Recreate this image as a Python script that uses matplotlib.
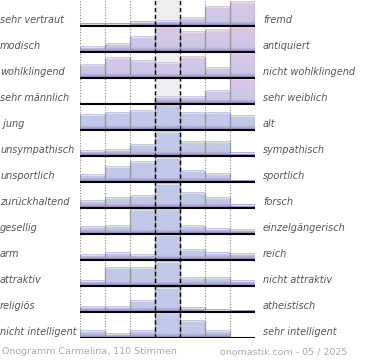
import numpy as np
import matplotlib
matplotlib.use("Agg")
import matplotlib.pyplot as plt
from matplotlib.colors import to_rgb

# --- data (percent of row height, 7 columns per row) ---
left_labels = ["sehr vertraut", "modisch", "wohlklingend", "sehr männlich", " jung",
               "unsympathisch", "unsportlich", "zurückhaltend", "gesellig", "arm",
               "attraktiv", "religiös", "nicht intelligent"]
right_labels = ["fremd", "antiquiert", "nicht wohlklingend", "sehr weiblich", "alt",
                "sympathisch", "sportlich", "forsch", "einzelgängerisch", "reich",
                "nicht attraktiv", "atheistisch", "sehr intelligent"]
values = [
    [5, 5, 13, 20, 31, 76, 96],
    [20, 29, 57, 97, 77, 85, 100],
    [49, 78, 65, 60, 82, 40, 97],
    [0, 0, 0, 26, 26, 52, 97],
    [59, 65, 75, 97, 65, 65, 56],
    [17, 23, 44, 96, 53, 53, 11],
    [28, 57, 79, 96, 44, 31, 4],
    [25, 40, 48, 96, 58, 37, 9],
    [26, 32, 96, 100, 29, 20, 16],
    [20, 26, 20, 97, 40, 26, 21],
    [17, 71, 71, 96, 29, 29, 17],
    [20, 20, 43, 94, 16, 8, 4],
    [25, 16, 25, 98, 66, 25, 0],
]
pink_rows = 4  # first rows drawn with pink-topped gradient
footer_left = "Onogramm Carmelina, 110 Stimmen"
footer_right = "onomastik.com - 05 / 2025"

n_rows = len(values)
n_cols = 7
max_h = 25 / 26  # tallest bar relative to row pitch

fig = plt.figure(figsize=(3.7, 3.6), dpi=100)
ax = fig.add_axes([80 / 370, 22.5 / 360, 175 / 370, 338 / 360])
ax.set_xlim(0, n_cols)
ax.set_ylim(0, n_rows)
ax.axis("off")

# center column background
ax.axvspan(3, 4, color="#eeeeee", zorder=0)

purple = np.array(to_rgb("#9a8abf"))
blue = np.array(to_rgb("#c2c8e8"))
pink = np.array(to_rgb("#dec6e6"))


def bar_colors(frac_top, is_pink, n=60):
    f = np.linspace(0, frac_top, n)
    # darker shade near the baseline
    w = np.clip(1 - f / 0.16, 0, 1) ** 1.5
    if is_pink:
        p = np.clip(f / max_h, 0, 1) ** 0.7
        body = blue[None, :] * (1 - p[:, None]) + pink[None, :] * p[:, None]
    else:
        body = np.repeat(blue[None, :], n, axis=0)
    col = body * (1 - w[:, None]) + purple[None, :] * w[:, None]
    return col[::-1].reshape(n, 1, 3)


for i, row in enumerate(values):
    base = n_rows - 1 - i
    for j, v in enumerate(row):
        h = v / 100 * max_h
        if h <= 0:
            continue
        img = bar_colors(h, i < pink_rows)
        ax.imshow(img, extent=(j, j + 1, base, base + h), aspect="auto",
                  interpolation="bilinear", zorder=2)
        ax.plot([j + 0.02, j + 0.98], [base + h, base + h], color="#e0e0e0", lw=0.8, zorder=3)
        ax.plot([j, j], [base, base + h], color="#999999", lw=0.9, zorder=3)
        ax.plot([j + 1, j + 1], [base, base + h], color="#999999", lw=0.9, zorder=3)
    ax.plot([0, n_cols], [base, base], color="black", lw=1.5, zorder=5,
            solid_capstyle="butt")
    ax.text(-80 / 25, base + 0.2, left_labels[i], ha="left", va="center",
            fontsize=7, style="italic", color="#555555", clip_on=False)
    ax.text(n_cols + 8 / 25, base + 0.2, right_labels[i], ha="left", va="center",
            fontsize=7, style="italic", color="#555555", clip_on=False)

for x in [0, 1, 2, 5, 6, 7]:
    ax.plot([x, x], [0, n_rows], color="#888888", lw=0.8, ls=(0, (1, 1.5)), zorder=1)
for x in [3, 4]:
    ax.plot([x, x], [0, n_rows], color="black", lw=1.0, ls=(0, (3, 2)), zorder=4)

fig.text(2 / 370, 1 - 352 / 360, footer_left, ha="left", va="center",
         fontsize=6.8, color="#aaaaaa")
fig.text(347 / 370, 1 - 352 / 360, footer_right, ha="right", va="center",
         fontsize=6.8, color="#aaaaaa")

fig.savefig("out.png", dpi=100)
